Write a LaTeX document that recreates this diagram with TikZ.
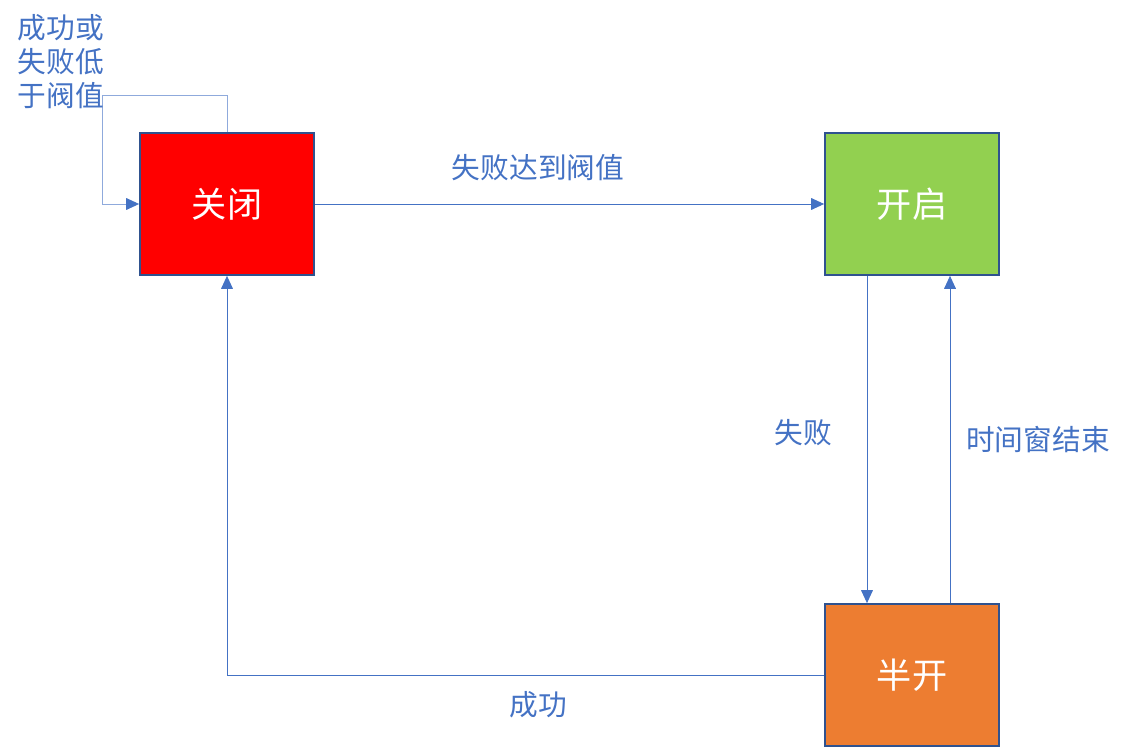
\documentclass[tikz,border=0pt]{standalone}
\usepackage{fontspec}
\setmainfont{Noto Sans CJK SC}
\definecolor{linea}{RGB}{68,114,196}
\definecolor{borde}{RGB}{47,82,143}
\definecolor{rojo}{RGB}{255,0,0}
\definecolor{verdec}{RGB}{146,208,80}
\definecolor{naranja}{RGB}{237,125,49}
\usetikzlibrary{arrows.meta,positioning,calc}

\begin{document}
\begin{tikzpicture}[
    estado/.style={draw=borde,line width=1.5pt,minimum width=5.22cm,
      minimum height=4.26cm,text=white,font=\fontsize{30}{34}\selectfont},
    flecha/.style={draw=linea,line width=0.8pt,
      -{Triangle[length=11pt,width=10pt,fill=linea,color=linea]}},
    etiqueta/.style={text=linea,font=\fontsize{24.5}{29}\selectfont}]
  \useasboundingbox (0,0) rectangle (34.05,-22.41);

  \node[estado,fill=rojo]    (guan) at (6.81,-6.12)  {关闭};
  \node[estado,fill=verdec]  (kai)  at (27.36,-6.12) {开启};
  \node[estado,fill=naranja] (ban)  at (27.36,-20.25) {半开};

  \draw[flecha,draw=linea!60] (guan.north) -- ++(0,1.11)
    -| ([xshift=-1.11cm]guan.west) -- (guan.west);
  \draw[flecha] (guan.east) -- (kai.west);
  \draw[flecha] ([xshift=-1.35cm]kai.south) -- ([xshift=-1.35cm]ban.north);
  \draw[flecha] ([xshift=1.14cm]ban.north) -- ([xshift=1.14cm]kai.south);
  \draw[flecha] (ban.west) -| (guan.south);

  \node[etiqueta,align=left] (lazo) at (1.83,-1.86) {成功或\\失败低\\于阀值};
  \node[etiqueta] (e1) at (16.14,-5.04)  {失败达到阀值};
  \node[etiqueta] (e2) at (24.09,-12.99) {失败};
  \node[etiqueta] (e3) at (31.14,-13.2)  {时间窗结束};
  \node[etiqueta] (e4) at (16.14,-21.15) {成功};
\end{tikzpicture}
\end{document}
